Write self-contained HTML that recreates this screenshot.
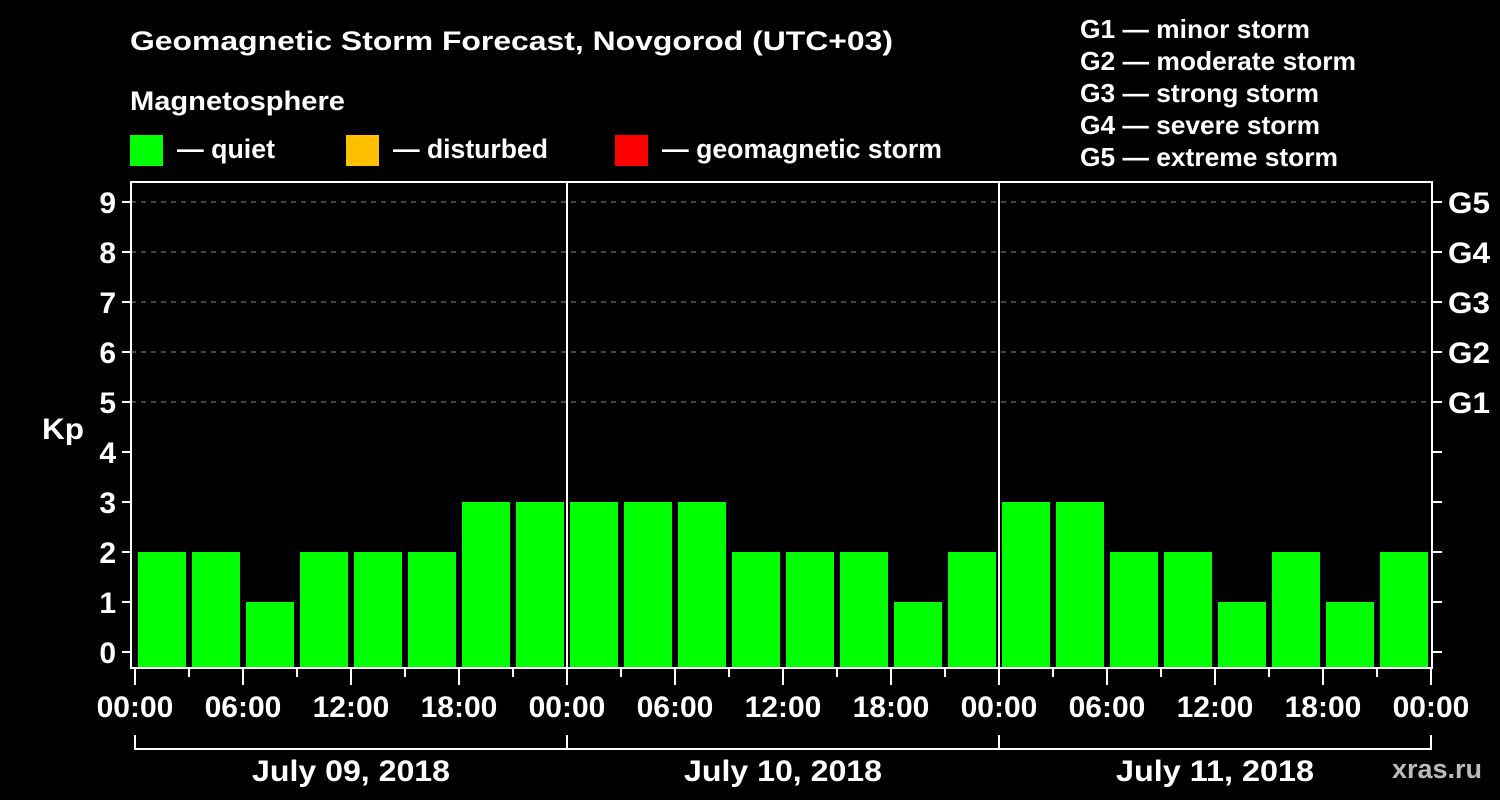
<!DOCTYPE html>
<html><head><meta charset="utf-8"><style>
html,body{margin:0;padding:0;background:#000;}
svg{display:block;font-family:"Liberation Sans",Arial,sans-serif;font-weight:bold;}
</style></head><body>
<svg id="chart" width="1500" height="800" viewBox="0 0 1500 800">
<rect x="0" y="0" width="1500" height="800" fill="#000"/>
<text x="130" y="50" fill="#fff" font-size="27" textLength="763" lengthAdjust="spacingAndGlyphs">Geomagnetic Storm Forecast, Novgorod (UTC+03)</text>
<text x="130" y="110" fill="#fff" font-size="27" textLength="215" lengthAdjust="spacingAndGlyphs">Magnetosphere</text>
<rect x="130" y="135" width="33" height="31" fill="#00ff00"/>
<text x="177" y="158" fill="#fff" font-size="27" textLength="98" lengthAdjust="spacingAndGlyphs">— quiet</text>
<rect x="346" y="135" width="33" height="31" fill="#ffc000"/>
<text x="393" y="158" fill="#fff" font-size="27" textLength="155" lengthAdjust="spacingAndGlyphs">— disturbed</text>
<rect x="615" y="135" width="33" height="31" fill="#ff0000"/>
<text x="662" y="158" fill="#fff" font-size="27" textLength="280" lengthAdjust="spacingAndGlyphs">— geomagnetic storm</text>
<g fill="#fff" font-size="26">
<text x="1080" y="38" textLength="230" lengthAdjust="spacingAndGlyphs">G1 — minor storm</text>
<text x="1080" y="70" textLength="276" lengthAdjust="spacingAndGlyphs">G2 — moderate storm</text>
<text x="1080" y="102" textLength="239" lengthAdjust="spacingAndGlyphs">G3 — strong storm</text>
<text x="1080" y="134" textLength="240" lengthAdjust="spacingAndGlyphs">G4 — severe storm</text>
<text x="1080" y="166" textLength="258" lengthAdjust="spacingAndGlyphs">G5 — extreme storm</text>
</g>
<text x="42" y="439" fill="#fff" font-size="30" textLength="42" lengthAdjust="spacingAndGlyphs">Kp</text>
<text x="1392" y="778" fill="#bbb" font-size="27" textLength="90" lengthAdjust="spacingAndGlyphs">xras.ru</text>
<g id="plot"></g>
</svg>
<script>
const kpValues = [2,2,1,2,2,2,3,3, 3,3,3,2,2,2,1,2, 3,3,2,2,1,2,1,2];
const dayLabels = ["July 09, 2018","July 10, 2018","July 11, 2018"];
const timeLabels = ["00:00","06:00","12:00","18:00"];
const gLabels = ["G1","G2","G3","G4","G5"];
const yTicks = [0,1,2,3,4,5,6,7,8,9];

const NS="http://www.w3.org/2000/svg";
const plot=document.getElementById('plot');
const X0=135, PXH=18, Y0=652, PXK=50, TOP=182, BOT=668, LEFT=131, RIGHT=1432;
const xs=h=>X0+h*PXH, ys=k=>Y0-k*PXK;
function mk(tag,a){const e=document.createElementNS(NS,tag);for(const k in a)e.setAttribute(k,a[k]);plot.appendChild(e);return e;}

for(let k=5;k<=9;k++){
  const g=mk('line',{x1:LEFT,x2:RIGHT,y1:ys(k),y2:ys(k),stroke:'#888','stroke-width':1,'stroke-dasharray':'5,5'});
  
  
}
kpValues.forEach((v,i)=>{
  const c=v>=5?'#ff0000':(v>=4?'#ffc000':'#00ff00');
  const b=mk('rect',{x:xs(i*3)+3,y:ys(v),width:PXH*3-6,height:BOT-ys(v),fill:c});
  
  
});
for(let d=1;d<dayLabels.length;d++){
  const l=mk('line',{x1:xs(d*24),x2:xs(d*24),y1:TOP,y2:BOT,stroke:'#fff','stroke-width':2});
  
  
}
const fr=mk('rect',{x:LEFT,y:TOP,width:RIGHT-LEFT,height:BOT-TOP,fill:'none',stroke:'#fff','stroke-width':2});


yTicks.forEach(k=>{
  mk('line',{x1:LEFT-9,x2:LEFT,y1:ys(k),y2:ys(k),stroke:'#fff','stroke-width':2});
  mk('line',{x1:RIGHT,x2:RIGHT+10,y1:ys(k),y2:ys(k),stroke:'#fff','stroke-width':2});
  const t=mk('text',{x:LEFT-15,y:ys(k)+11,fill:'#fff','font-size':30,'text-anchor':'end'});
  t.textContent=k;
  
  
});
gLabels.forEach((g,i)=>{
  const t=mk('text',{x:1448,y:ys(5+i)+11,fill:'#fff','font-size':30,textLength:42,lengthAdjust:'spacingAndGlyphs'});
  t.textContent=g;
  
  
});
const nd=dayLabels.length;
for(let h=0;h<=nd*24;h+=3){
  const major=h%6===0;
  mk('line',{x1:xs(h),x2:xs(h),y1:BOT,y2:BOT+(major?17:9),stroke:'#fff','stroke-width':2});
  if(major){
    const t=mk('text',{x:xs(h),y:717,fill:'#fff','font-size':30,'text-anchor':'middle'});
    t.textContent=timeLabels[(h/6)%4];
    
    
  }
}
dayLabels.forEach((d,i)=>{
  mk('line',{x1:xs(i*24),x2:xs(i*24),y1:735,y2:750,stroke:'#fff','stroke-width':2});
  mk('line',{x1:xs(i*24),x2:xs((i+1)*24),y1:749,y2:749,stroke:'#fff','stroke-width':2});
  const t=mk('text',{x:xs(i*24+12),y:781,fill:'#fff','font-size':30,'text-anchor':'middle',textLength:198,lengthAdjust:'spacingAndGlyphs'});
  t.textContent=d;
  
  
});
mk('line',{x1:xs(nd*24),x2:xs(nd*24),y1:735,y2:750,stroke:'#fff','stroke-width':2});
</script>
</body></html>
